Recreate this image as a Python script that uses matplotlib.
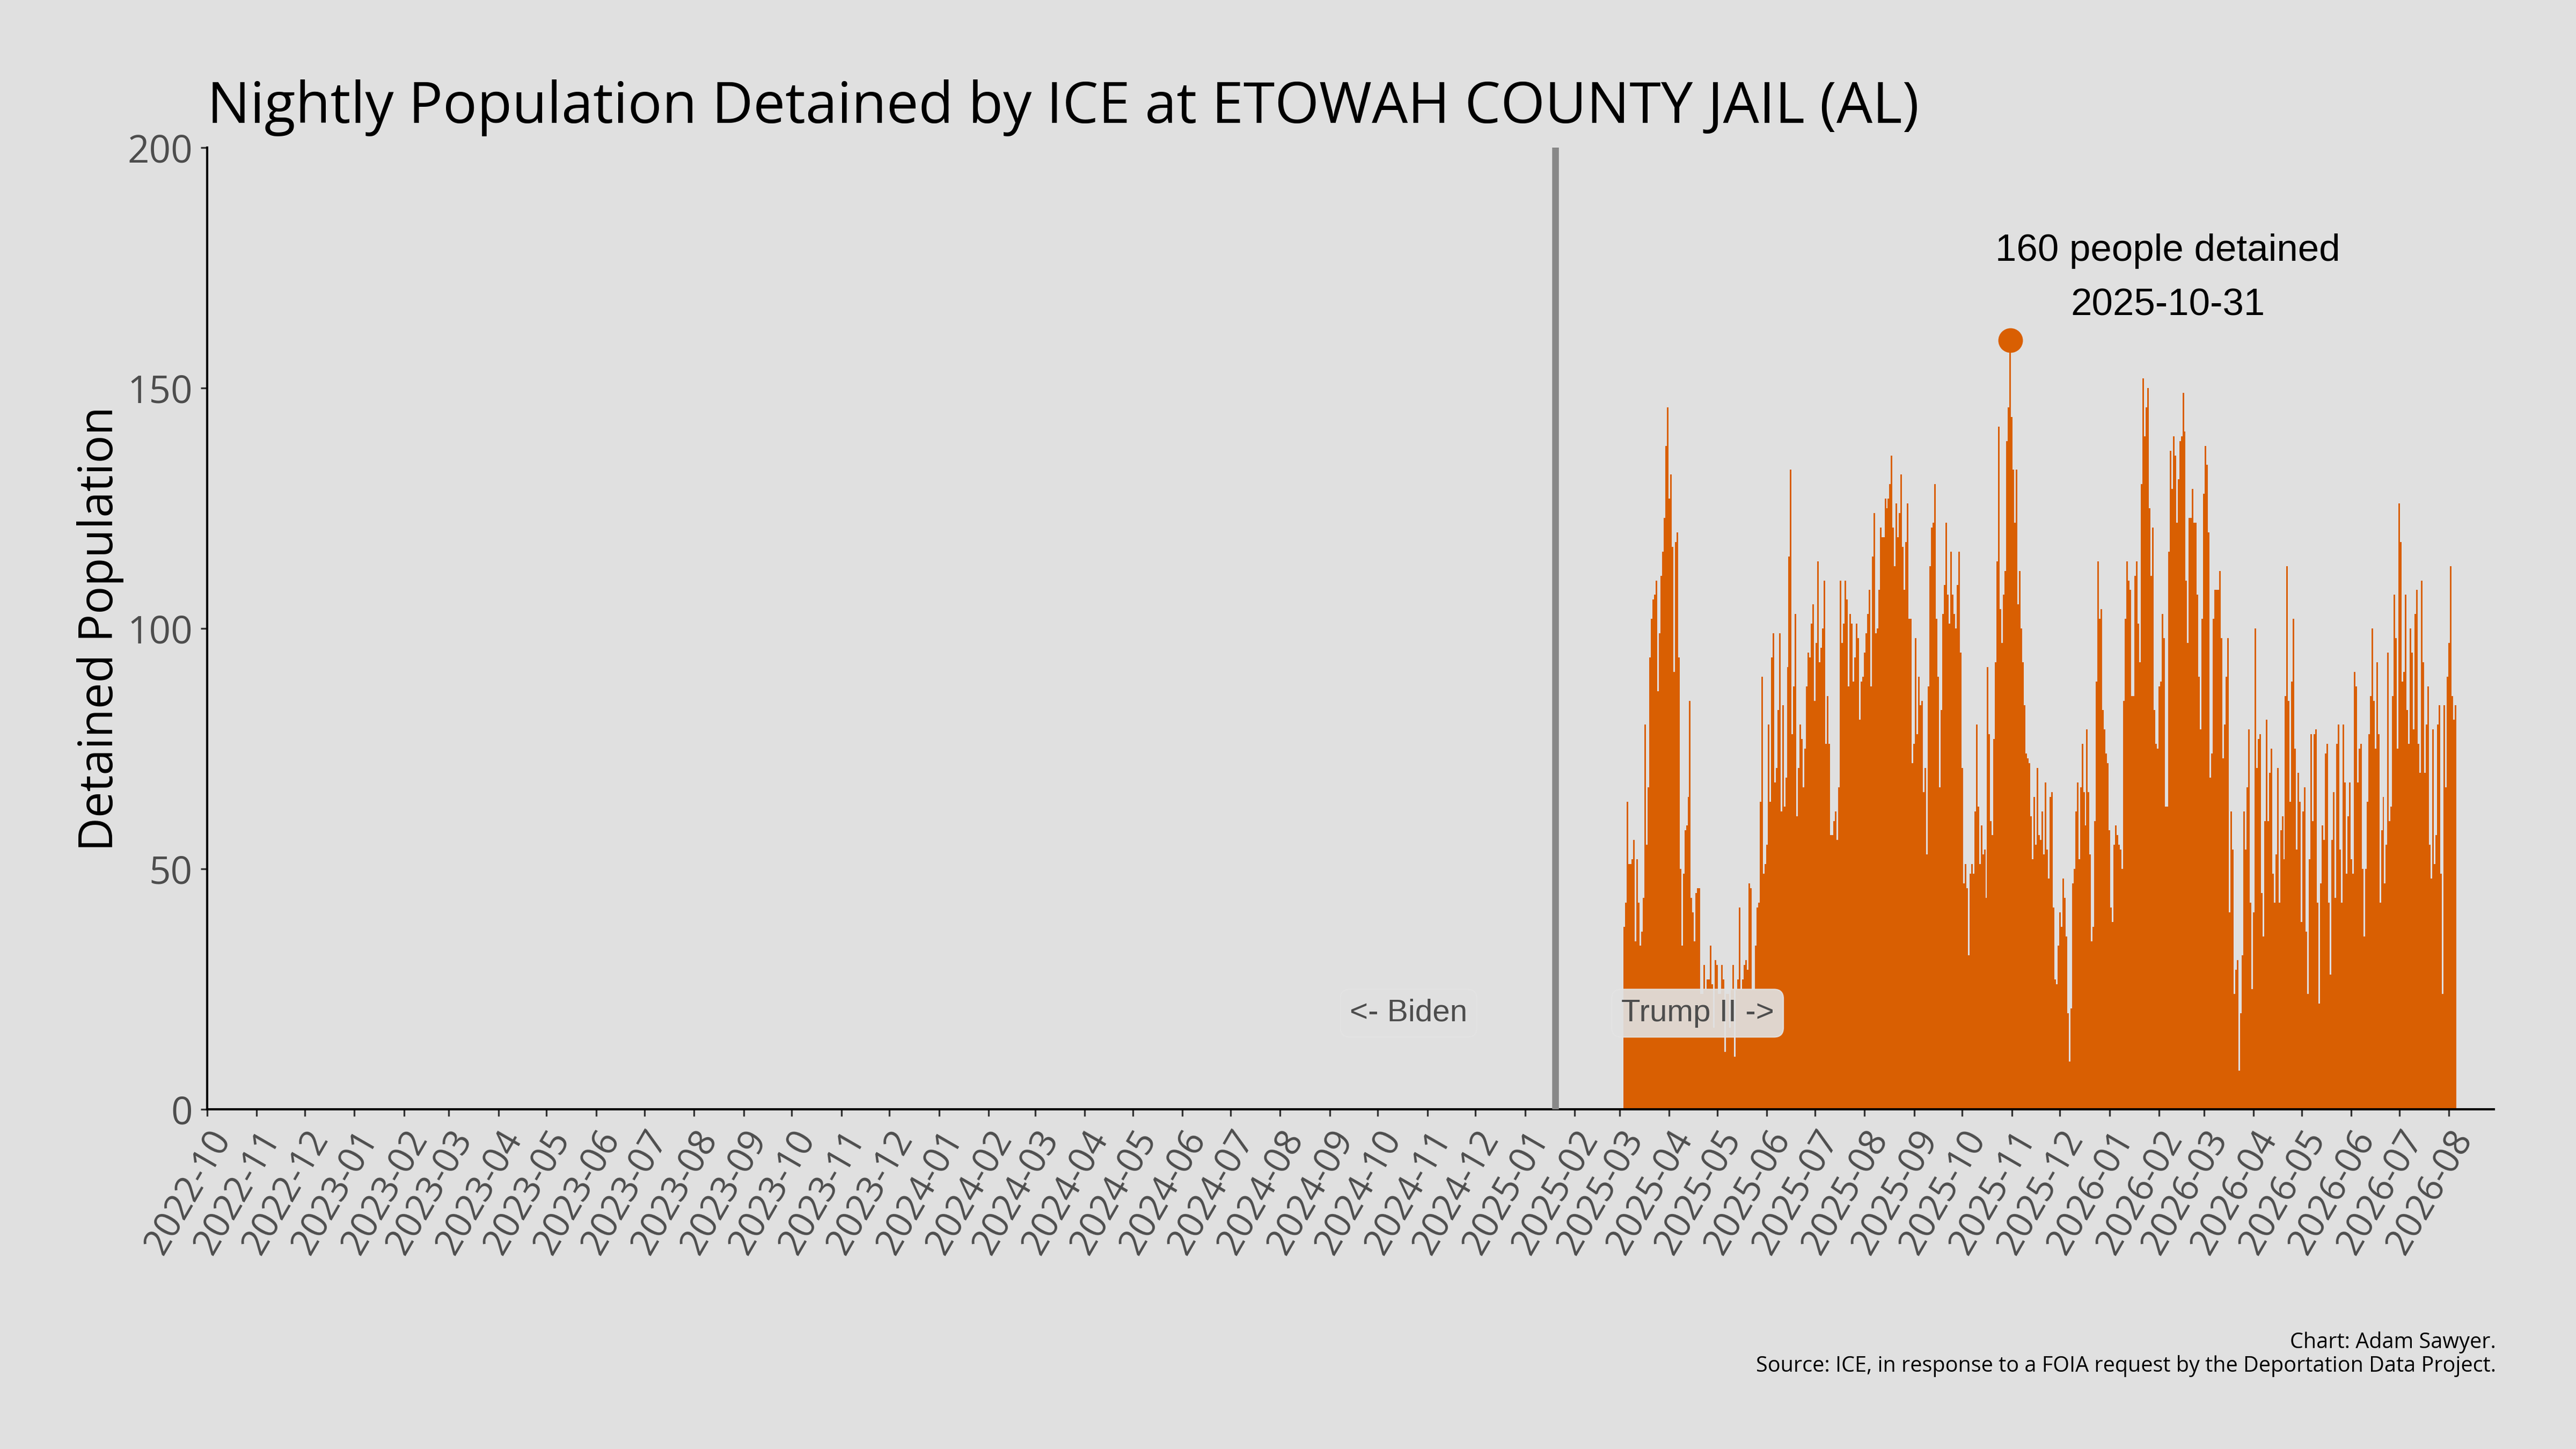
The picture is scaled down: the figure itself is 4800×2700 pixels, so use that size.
import pandas as pd
import matplotlib
matplotlib.use('Agg')
import matplotlib.pyplot as plt
import matplotlib.dates as mdates

# nightly ICE population, Etowah County Jail, one value per night from start_date
start_date = '2025-03-04'
detained = [
    38, 43, 64, 51, 51, 52, 56, 35, 52, 43,
    34, 37, 44, 80, 55, 67, 94, 102, 106, 107,
    110, 87, 99, 111, 116, 123, 138, 146, 127, 132,
    117, 91, 118, 120, 94, 50, 34, 49, 58, 59,
    65, 85, 44, 41, 35, 45, 46, 46,
    24, 24, 30, 25, 27, 27, 34, 26, 17, 31,
    30, 24, 24, 30, 27, 12, 24, 24, 17, 25,
    30, 11, 25, 27, 42, 25, 27, 30, 31, 29,
    47, 46, 25, 25, 34, 42, 43, 64, 90, 49,
    51, 55, 80, 64, 94, 99, 68, 71, 83, 99,
    62, 84, 63, 69, 92, 115, 133, 78, 88, 103,
    61, 71, 80, 77, 67, 75, 88, 95, 94, 101,
    105, 85, 97, 114, 93, 96, 100, 110,
    76, 86, 76, 57, 57, 60, 62, 56, 67, 110,
    97, 101, 110, 106, 88, 103, 101, 89, 94, 101,
    98, 81, 89, 90, 95, 99, 103, 108, 88, 115,
    124, 99, 100, 108, 121, 119, 119, 127, 125, 127,
    130, 136, 121, 113, 126, 119, 124, 132, 117, 108,
    118, 126, 102, 102, 72, 76, 98, 78, 90, 84,
    85, 66, 71, 53, 88, 113, 121, 122, 130, 102,
    90, 67, 83, 103, 109, 122, 107, 101, 116, 107,
    103, 100, 109, 116, 95, 71, 47, 51, 46, 32,
    49, 51, 49, 62, 80, 63, 51, 59, 53, 54,
    44, 92, 78, 60, 57, 77, 93, 114, 142, 104,
    97, 107, 112, 139, 146, 160, 144, 133, 122, 133,
    105, 112, 100, 93, 84, 74, 73, 72, 61, 52,
    65,
    55, 71, 57, 56, 62, 53, 68, 54, 48, 65,
    66, 42, 27, 26, 34, 41, 38, 48, 44, 36,
    20, 10, 21, 47, 50, 62, 68, 52, 67, 76,
    66, 59, 79, 66, 53, 35, 38, 60, 89, 114,
    102, 104, 83, 79, 74, 72, 58, 42, 39, 55,
    59, 57, 55, 54, 50, 85, 102, 114, 110, 108,
    86, 86, 111, 114, 101, 93, 130, 152, 140, 146,
    150, 125, 111, 121, 83, 76, 75, 88, 89, 103,
    98, 63, 63, 116, 137, 129, 140, 136, 122, 131,
    139, 140, 149, 141, 110, 97, 123, 123, 129, 122,
    122, 107, 90, 79, 102, 128, 138, 134, 120, 69,
    74, 102, 108, 108, 108, 112, 98, 73, 80, 90,
    98, 41, 62, 54, 24, 29, 31, 8, 20, 32,
    62,
    54, 67, 79, 43, 25, 41, 100, 71, 77, 78,
    45, 36, 60, 81, 60, 70, 75, 49, 43, 53,
    71, 43, 58, 61, 52, 86, 113, 85, 64, 89,
    102, 75, 54, 70, 64, 39, 62, 67, 37, 24,
    52, 78, 60, 78, 79, 43, 22, 47, 59, 56,
    74, 76, 43, 28, 56, 66, 44, 76, 80, 54,
    43, 80, 68, 49, 61, 68, 52, 49, 91, 88,
    68, 75, 76, 50, 36, 50, 64, 78, 86, 100,
    85, 75, 93, 78, 43, 58, 65, 47, 55, 95,
    60, 63, 86, 107, 98, 75, 126, 118, 89, 91,
    107, 83, 76, 100, 95, 79, 103, 108, 76, 70,
    110, 93, 70, 80, 88, 55, 48, 79, 51, 57,
    80, 84, 49, 24, 84, 67, 90, 97, 113, 86,
    81, 84,
]

peak_date = '2025-10-31'
peak_value = 160
inauguration = '2025-01-20'
x_range = ('2022-10-01', '2026-08-29')
y_ticks = [0, 50, 100, 150, 200]

title = 'Nightly Population Detained by ICE at ETOWAH COUNTY JAIL (AL)'
caption1 = 'Chart: Adam Sawyer.'
caption2 = 'Source: ICE, in response to a FOIA request by the Deportation Data Project.'

bg = '#e0e0e0'
orange = '#d95f02'
grey_txt = '#4d4d4d'
main_font = ['Open Sans', 'DejaVu Sans']
label_font = ['Liberation Sans', 'DejaVu Sans']

plt.rcParams['font.family'] = main_font

dates = pd.date_range(start_date, periods=len(detained), freq='D')

fig = plt.figure(figsize=(16, 9), dpi=300, facecolor=bg)
ax = fig.add_axes([0.0804, 0.2344, 0.8877, 0.6637], facecolor=bg)

ax.bar(dates, detained, width=1.0, color=orange, linewidth=0, zorder=2)
ax.axvline(pd.Timestamp(inauguration), color='#888888', lw=3, zorder=3)
ax.plot([pd.Timestamp(peak_date)], [peak_value], 'o', color=orange,
        ms=10, zorder=4)

ax.annotate(f'{peak_value} people detained', xy=(pd.Timestamp(peak_date), peak_value),
            xytext=(70.5, 35.3), textcoords='offset points', ha='center',
            va='baseline', fontsize=17, family=label_font, color='black')
ax.annotate(pd.Timestamp(peak_date).strftime('%Y-%m-%d'),
            xy=(pd.Timestamp(peak_date), peak_value),
            xytext=(70.5, 11), textcoords='offset points', ha='center',
            va='baseline', fontsize=17, family=label_font, color='black')

box = dict(boxstyle='round,pad=0.3', facecolor=bg, edgecolor='#e4e4e4',
           linewidth=0.5, alpha=0.92)
ax.text(pd.Timestamp('2024-11-26'), 20, '<- Biden', ha='right', va='center',
        fontsize=14, family=label_font, color=grey_txt, bbox=box, zorder=5)
ax.text(pd.Timestamp('2025-03-02'), 20, 'Trump II ->', ha='left', va='center',
        fontsize=14, family=label_font, color=grey_txt, bbox=box, zorder=5)

ax.set_xlim(pd.Timestamp(x_range[0]), pd.Timestamp(x_range[1]))
ax.set_ylim(0, 200)
ax.set_yticks(y_ticks)
ax.xaxis.set_major_locator(mdates.MonthLocator())
ax.xaxis.set_major_formatter(mdates.DateFormatter('%Y-%m'))

for s in ['top', 'right']:
    ax.spines[s].set_visible(False)
for s in ['left', 'bottom']:
    ax.spines[s].set_color('black')
    ax.spines[s].set_linewidth(1.0)

ax.tick_params(axis='both', colors='#333333', labelcolor=grey_txt,
               labelsize=17, length=3, width=0.8, pad=3.5)
ax.tick_params(axis='x', labelsize=16.3)
plt.setp(ax.get_xticklabels(), rotation=60, ha='right', rotation_mode='anchor')

ax.set_ylabel('Detained Population', fontsize=20.8, labelpad=1.5, color='black')
ax.set_title(title, loc='left', fontsize=25.5, pad=11, color='black')

fig.text(0.969, 0.0696, caption1, ha='right', va='baseline', fontsize=9.5)
fig.text(0.969, 0.0533, caption2, ha='right', va='baseline', fontsize=9.5)

fig.savefig('out.png', dpi=300, facecolor=bg)
